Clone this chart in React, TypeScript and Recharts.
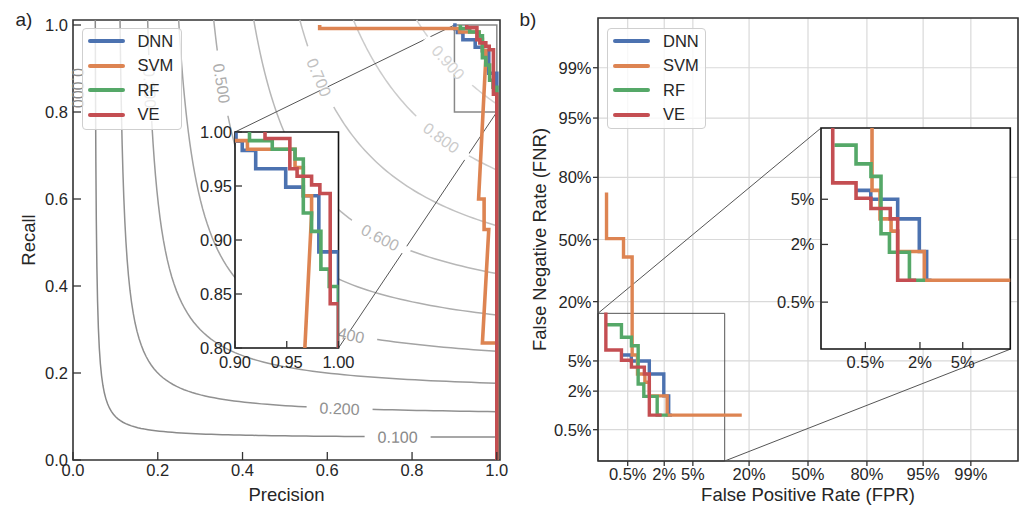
import {
  CartesianGrid,
  Legend,
  Line,
  LineChart,
  ReferenceArea,
  ReferenceDot,
  ReferenceLine,
  XAxis,
  YAxis,
} from "recharts";

const FONT = '"Liberation Sans", Arial, Helvetica, sans-serif';
const INK = "#262626";
const SPINE = "#333333";
const PAGE_W = 1021;
const PAGE_H = 506;

const MODEL_NAMES = ["DNN", "SVM", "RF", "VE"];
const MODEL_COLORS = ["#4C72B0", "#DD8452", "#55A868", "#C44E52"];

// a) precision-recall curves, [precision, recall]
const DNN_PR: [number, number][] = [
  [0.897, 1.0], [0.901, 1.0], [0.901, 0.9915], [0.907, 0.9915], [0.907, 0.983],
  [0.92, 0.983], [0.92, 0.966], [0.949, 0.966], [0.949, 0.949], [0.966, 0.949],
  [0.966, 0.941], [0.981, 0.941], [0.981, 0.889], [1.0, 0.889], [1.0, 0.0],
];
const SVM_PR: [number, number][] = [
  [0.582, 1.0], [0.582, 0.992], [0.912, 0.992], [0.912, 0.984], [0.958, 0.984],
  [0.958, 0.967], [0.966, 0.967], [0.966, 0.941], [0.974, 0.941], [0.974, 0.924],
  [0.957, 0.6], [0.97, 0.6], [0.97, 0.53], [0.981, 0.53], [0.966, 0.269],
  [1.0, 0.269], [1.0, 0.0],
];
const RF_PR: [number, number][] = [
  [0.914, 1.0], [0.914, 0.992], [0.936, 0.992], [0.936, 0.984], [0.958, 0.984],
  [0.958, 0.975], [0.966, 0.975], [0.966, 0.925], [0.974, 0.925], [0.974, 0.908],
  [0.983, 0.908], [0.983, 0.873], [0.991, 0.873], [0.991, 0.857], [1.0, 0.857],
  [1.0, 0.0],
];
const VE_PR: [number, number][] = [
  [0.929, 1.0], [0.929, 0.994], [0.953, 0.994], [0.953, 0.966], [0.96, 0.966],
  [0.96, 0.959], [0.974, 0.959], [0.974, 0.951], [0.982, 0.951], [0.982, 0.943],
  [0.992, 0.943], [0.992, 0.841], [1.0, 0.841], [1.0, 0.0],
];

// iso-F1 guide lines behind panel a
const F_LEVELS = [0.1, 0.2, 0.3, 0.4, 0.5, 0.6, 0.7, 0.8, 0.9];
const F_GREYS = ["#8a8a8a", "#919191", "#999999", "#a3a3a3", "#adadad", "#b7b7b7", "#c1c1c1", "#cbcbcb", "#d4d4d4"];
// inline label spots: precision for the flat stretches, recall for the steep ones
const F_LABEL_SPOTS: { level: number; p?: number; r?: number }[] = [
  { level: 0.1, p: 0.766 },
  { level: 0.2, p: 0.629 },
  { level: 0.3, r: 0.855 },
  { level: 0.4, p: 0.641 },
  { level: 0.5, r: 0.866 },
  { level: 0.6, p: 0.725 },
  { level: 0.7, r: 0.88 },
  { level: 0.8, p: 0.869 },
  { level: 0.9, p: 0.886 },
];
// the zero level runs along the left spine; only its label shows
const F_ZERO_LABEL = { text: "0.000", p: 0.012, r: 0.855, color: "#8a8a8a" };

// b) DET curves, [FPR %, FNR %]
const DNN_DET: [number, number][] = [
  [0.385, 5.88], [0.58, 5.88], [0.58, 5.0], [1.17, 5.0], [1.17, 3.42], [1.97, 3.42],
  [1.97, 1.71], [2.33, 1.71], [2.33, 0.87], [2.6, 0.87],
];
const SVM_DET: [number, number][] = [
  [0.2, 73.8], [0.2, 50.5], [0.42, 50.5], [0.42, 40.6], [0.6, 40.6], [0.6, 5.88],
  [0.743, 5.88], [0.743, 3.42], [0.99, 3.42], [0.99, 2.66], [1.17, 2.66], [1.17, 1.71],
  [2.21, 1.71], [2.21, 0.87], [17.2, 0.87],
];
const RF_DET: [number, number][] = [
  [0.204, 12.4], [0.385, 12.4], [0.385, 9.26], [0.583, 9.26], [0.583, 7.52], [0.763, 7.52],
  [0.763, 2.52], [0.95, 2.52], [0.95, 1.68], [1.56, 1.68], [1.56, 0.87], [2.25, 0.87],
];
const VE_DET: [number, number][] = [
  [0.194, 16.1], [0.194, 6.72], [0.385, 6.72], [0.385, 5.09], [0.583, 5.09], [0.583, 4.2],
  [0.97, 4.2], [0.97, 3.42], [1.17, 3.42], [1.17, 0.87], [1.83, 0.87],
];

const A_TICKS = [0, 0.2, 0.4, 0.6, 0.8, 1.0];
const A_INSET_X_TICKS = [0.9, 0.95, 1.0];
const A_INSET_Y_TICKS = [0.8, 0.85, 0.9, 0.95, 1.0];
const B_TICKS = [0.005, 0.02, 0.05, 0.2, 0.5, 0.8, 0.95, 0.99];
const B_INSET_TICKS = [0.005, 0.02, 0.05];

// ---- layout (page pixels) ----
const A_MAIN = { left: 0, width: 512, top: 20, right: 12, yAxisW: 73, xAxisH: 46 };
const A_X_DOMAIN: [number, number] = [0, 1.0075];
const A_Y_DOMAIN: [number, number] = [0, 1.0115];
const A_ZOOM = { x: [0.9, 1.0] as [number, number], y: [0.8, 1.0] as [number, number] };
const A_INSET = { x0: 235, y0: 132, x1: 338.5, y1: 348, yAxisW: 50, xAxisH: 34, pad: 14, padRight: 26 };

const B_MAIN = { left: 510, width: 511, top: 18, right: 3, yAxisW: 88, xAxisH: 45 };
const B_DOMAIN: [number, number] = [-3, 3];
const B_ZOOM = { x: [-3, -1.19] as [number, number], y: [-3, -1.0] as [number, number] };
const B_INSET = { x0: 820.7, y0: 128.3, x1: 1010, y1: 349.3, yAxisW: 50, xAxisH: 34, pad: 10, padRight: 10 };

type Rect = { x0: number; x1: number; y0: number; y1: number };
const mainRect = (m: typeof A_MAIN): Rect => ({
  x0: m.left + m.yAxisW,
  x1: m.left + m.width - m.right,
  y0: m.top,
  y1: PAGE_H - m.xAxisH,
});
// page pixel -> data coordinates of a plot
const toData = (r: Rect, xd: [number, number], yd: [number, number], px: number, py: number) => ({
  x: xd[0] + ((px - r.x0) / (r.x1 - r.x0)) * (xd[1] - xd[0]),
  y: yd[0] + ((r.y1 - py) / (r.y1 - r.y0)) * (yd[1] - yd[0]),
});

// inverse standard normal CDF (Acklam), for the DET axes
function probit(p: number): number {
  const a = [-39.69683028665376, 220.9460984245205, -275.9285104469687, 138.357751867269, -30.66479806614716, 2.506628277459239];
  const b = [-54.47609879822406, 161.5858368580409, -155.6989798598866, 66.80131188771972, -13.28068155288572];
  const c = [-0.007784894002430293, -0.3223964580411365, -2.400758277161838, -2.549732539343734, 4.374664141464968, 2.938163982698783];
  const d = [0.007784695709041462, 0.3224671290700398, 2.445134137142996, 3.754408661907416];
  const lo = 0.02425;
  if (p < lo) {
    const q = Math.sqrt(-2 * Math.log(p));
    return (((((c[0] * q + c[1]) * q + c[2]) * q + c[3]) * q + c[4]) * q + c[5]) / ((((d[0] * q + d[1]) * q + d[2]) * q + d[3]) * q + 1);
  }
  if (p <= 1 - lo) {
    const q = p - 0.5;
    const r = q * q;
    return ((((((a[0] * r + a[1]) * r + a[2]) * r + a[3]) * r + a[4]) * r + a[5]) * q) / (((((b[0] * r + b[1]) * r + b[2]) * r + b[3]) * r + b[4]) * r + 1);
  }
  const q = Math.sqrt(-2 * Math.log(1 - p));
  return -(((((c[0] * q + c[1]) * q + c[2]) * q + c[3]) * q + c[4]) * q + c[5]) / ((((d[0] * q + d[1]) * q + d[2]) * q + d[3]) * q + 1);
}

const pct = (r: number) => `${+(r * 100).toFixed(1)}%`;
const rateLabel = (z: number) => {
  const hit = B_TICKS.find((r) => Math.abs(probit(r) - z) < 1e-6);
  return hit === undefined ? "" : pct(hit);
};

const prSeries = [DNN_PR, SVM_PR, RF_PR, VE_PR].map((pts) => pts.map(([x, y]) => ({ x, y })));
const detSeries = [DNN_DET, SVM_DET, RF_DET, VE_DET].map((pts) =>
  pts.map(([fpr, fnr]) => ({ x: probit(fpr / 100), y: probit(fnr / 100) })),
);

// iso-F1 curve: recall = F·P / (2P − F)
const isoRecall = (f: number, p: number) => (f * p) / (2 * p - f);
const isoPrecision = (f: number, r: number) => (f * r) / (2 * r - f);
const isoCurve = (f: number) => {
  const p0 = isoPrecision(f, A_Y_DOMAIN[1]);
  return Array.from({ length: 81 }, (_, i) => {
    const t = i / 80;
    const p = p0 + (1 - p0) * t * t;
    return { x: p, y: Math.min(isoRecall(f, p), A_Y_DOMAIN[1]) };
  });
};

function TickX({ x, y, payload, format, len, gap }: any) {
  return (
    <g>
      <line x1={x} y1={y} x2={x} y2={y - len} stroke={SPINE} strokeWidth={1.3} />
      <text x={x} y={y + gap} textAnchor="middle" fontFamily={FONT} fontSize={16.5} fill={INK}>
        {format(payload.value)}
      </text>
    </g>
  );
}

function TickY({ x, y, payload, format, len, gap }: any) {
  return (
    <g>
      <line x1={x} y1={y} x2={x + len} y2={y} stroke={SPINE} strokeWidth={1.3} />
      <text x={x - gap} y={y + 6} textAnchor="end" fontFamily={FONT} fontSize={16.5} fill={INK}>
        {format(payload.value)}
      </text>
    </g>
  );
}

// axis title; `shift` is measured from the axis box's left (vertical) or top edge
function AxisTitle({ viewBox, text, shift, vertical }: any) {
  const { x, y, width, height } = viewBox;
  if (vertical) {
    const bx = x + shift;
    const cy = y + height / 2;
    return (
      <text x={bx} y={cy} transform={`rotate(-90, ${bx}, ${cy})`} textAnchor="middle" fontFamily={FONT} fontSize={18.5} fill={INK}>
        {text}
      </text>
    );
  }
  return (
    <text x={x + width / 2} y={y + shift} textAnchor="middle" fontFamily={FONT} fontSize={18.5} fill={INK}>
      {text}
    </text>
  );
}

function LegendBox({ payload }: any) {
  const items = (payload ?? [])
    .filter((item: any) => MODEL_NAMES.includes(item.value))
    .sort((p: any, q: any) => MODEL_NAMES.indexOf(p.value) - MODEL_NAMES.indexOf(q.value));
  return (
    <div
      style={{
        boxSizing: "border-box",
        width: "100%",
        height: "100%",
        border: "1px solid #cfcfcf",
        borderRadius: 4,
        background: "rgba(255,255,255,0.8)",
        paddingLeft: 5,
        fontFamily: FONT,
        fontSize: 16.5,
        color: INK,
      }}
    >
      {items.map((item: any) => (
        <div key={item.value} style={{ display: "flex", alignItems: "center", height: 24.4 }}>
          <svg width={37} height={6} style={{ marginRight: 12.7 }}>
            <line x1={2} y1={3} x2={35} y2={3} stroke={item.color} strokeWidth={4} strokeLinecap="round" />
          </svg>
          <span>{item.value}</span>
        </div>
      ))}
    </div>
  );
}

function ContourLabel({ cx, cy, text, color, angle }: any) {
  if (cx == null || cy == null) return null;
  return (
    <g transform={`translate(${cx}, ${cy}) rotate(${angle})`}>
      <rect x={-33} y={-4} width={66} height={8} fill="#ffffff" />
      <text x={0} y={6} textAnchor="middle" fontFamily={FONT} fontSize={16} fill={color}>
        {text}
      </text>
    </g>
  );
}

function PanelA() {
  const r = mainRect(A_MAIN);
  const pxPerX = (r.x1 - r.x0) / (A_X_DOMAIN[1] - A_X_DOMAIN[0]);
  const pxPerY = (r.y1 - r.y0) / (A_Y_DOMAIN[1] - A_Y_DOMAIN[0]);
  const insetTL = toData(r, A_X_DOMAIN, A_Y_DOMAIN, A_INSET.x0, A_INSET.y0);
  const insetBR = toData(r, A_X_DOMAIN, A_Y_DOMAIN, A_INSET.x1, A_INSET.y1);
  const labels = F_LABEL_SPOTS.map((s) => {
    const p = s.p ?? isoPrecision(s.level, s.r as number);
    const rec = s.r ?? isoRecall(s.level, p);
    const slope = (s.level * s.level) / ((2 * p - s.level) * (2 * p - s.level));
    const angle = (Math.atan((slope * pxPerY) / pxPerX) * 180) / Math.PI;
    return { text: s.level.toFixed(3), color: F_GREYS[F_LEVELS.indexOf(s.level)], p, rec, angle };
  });
  labels.push({ text: F_ZERO_LABEL.text, color: F_ZERO_LABEL.color, p: F_ZERO_LABEL.p, rec: F_ZERO_LABEL.r, angle: 90 });
  return (
    <div style={{ position: "absolute", left: A_MAIN.left, top: 0 }}>
      <LineChart
        width={A_MAIN.width}
        height={PAGE_H}
        margin={{ top: A_MAIN.top, right: A_MAIN.right, bottom: 0, left: 0 }}
      >
        <XAxis
          type="number"
          dataKey="x"
          domain={A_X_DOMAIN}
          ticks={A_TICKS}
          interval={0}
          height={A_MAIN.xAxisH}
          axisLine={false}
          tickLine={false}
          tickSize={0}
          tickMargin={0}
          tick={<TickX format={(v: number) => v.toFixed(1)} len={8} gap={15.5} />}
          label={<AxisTitle text="Precision" shift={40.7} />}
        />
        <YAxis
          type="number"
          dataKey="y"
          domain={A_Y_DOMAIN}
          ticks={A_TICKS}
          interval={0}
          width={A_MAIN.yAxisW}
          axisLine={false}
          tickLine={false}
          tickSize={0}
          tickMargin={0}
          tick={<TickY format={(v: number) => v.toFixed(1)} len={8} gap={5} />}
          label={<AxisTitle text="Recall" shift={35} vertical />}
        />
        {F_LEVELS.map((f, i) => (
          <Line
            key={`iso-${f}`}
            data={isoCurve(f)}
            dataKey="y"
            name={`F=${f}`}
            legendType="none"
            stroke={F_GREYS[i]}
            strokeWidth={1.5}
            dot={false}
            activeDot={false}
            isAnimationActive={false}
          />
        ))}
        {labels.map((l) => (
          <ReferenceDot
            key={`lab-${l.text}`}
            x={l.p}
            y={l.rec}
            r={0}
            shape={(props: any) => (
              <ContourLabel cx={props.cx} cy={props.cy} text={l.text} color={l.color} angle={l.angle} />
            )}
          />
        ))}
        <ReferenceArea
          x1={A_ZOOM.x[0]}
          x2={A_ZOOM.x[1]}
          y1={A_ZOOM.y[0]}
          y2={A_ZOOM.y[1]}
          fill="none"
          stroke="#888888"
          strokeWidth={1.5}
        />
        <ReferenceLine
          segment={[{ x: A_ZOOM.x[0], y: A_ZOOM.y[1] }, insetTL]}
          stroke="#555555"
          strokeWidth={1}
        />
        <ReferenceLine
          segment={[{ x: A_ZOOM.x[1], y: A_ZOOM.y[0] }, insetBR]}
          stroke="#555555"
          strokeWidth={1}
        />
        {prSeries.map((data, i) => (
          <Line
            key={MODEL_NAMES[i]}
            data={data}
            dataKey="y"
            name={MODEL_NAMES[i]}
            stroke={MODEL_COLORS[i]}
            strokeWidth={3.6}
            dot={false}
            activeDot={false}
            isAnimationActive={false}
          />
        ))}
        <ReferenceArea
          x1={A_X_DOMAIN[0]}
          x2={A_X_DOMAIN[1]}
          y1={A_Y_DOMAIN[0]}
          y2={A_Y_DOMAIN[1]}
          fill="none"
          stroke={SPINE}
          strokeWidth={1.6}
        />
        <Legend
          layout="vertical"
          align="center"
          verticalAlign="middle"
          content={<LegendBox />}
          wrapperStyle={{ left: 81.7 - A_MAIN.left, top: 28.3, width: 100, height: 101.7 }}
        />
      </LineChart>
    </div>
  );
}

function InsetA() {
  const i = A_INSET;
  const w = i.yAxisW + (i.x1 - i.x0) + i.padRight;
  const h = i.pad + (i.y1 - i.y0) + i.xAxisH;
  return (
    <div style={{ position: "absolute", left: i.x0 - i.yAxisW, top: i.y0 - i.pad }}>
      <LineChart width={w} height={h} margin={{ top: i.pad, right: i.padRight, bottom: 0, left: 0 }}>
        <CartesianGrid fill="#ffffff" fillOpacity={1} stroke="none" />
        <XAxis
          type="number"
          dataKey="x"
          domain={A_ZOOM.x}
          allowDataOverflow
          ticks={A_INSET_X_TICKS}
          interval={0}
          height={i.xAxisH}
          axisLine={false}
          tickLine={false}
          tickSize={0}
          tickMargin={0}
          tick={<TickX format={(v: number) => v.toFixed(2)} len={7} gap={19.5} />}
        />
        <YAxis
          type="number"
          dataKey="y"
          domain={A_ZOOM.y}
          allowDataOverflow
          ticks={A_INSET_Y_TICKS}
          interval={0}
          width={i.yAxisW}
          axisLine={false}
          tickLine={false}
          tickSize={0}
          tickMargin={0}
          tick={<TickY format={(v: number) => v.toFixed(2)} len={7} gap={3} />}
        />
        {prSeries.map((data, k) => (
          <Line
            key={MODEL_NAMES[k]}
            data={data}
            dataKey="y"
            name={MODEL_NAMES[k]}
            stroke={MODEL_COLORS[k]}
            strokeWidth={3.6}
            dot={false}
            activeDot={false}
            isAnimationActive={false}
          />
        ))}
        <ReferenceArea
          x1={A_ZOOM.x[0]}
          x2={A_ZOOM.x[1]}
          y1={A_ZOOM.y[0]}
          y2={A_ZOOM.y[1]}
          fill="none"
          stroke="#111111"
          strokeWidth={1.6}
        />
      </LineChart>
    </div>
  );
}

function PanelB() {
  const r = mainRect(B_MAIN);
  const insetTL = toData(r, B_DOMAIN, B_DOMAIN, B_INSET.x0, B_INSET.y0);
  const insetBR = toData(r, B_DOMAIN, B_DOMAIN, B_INSET.x1, B_INSET.y1);
  const ticks = B_TICKS.map(probit);
  return (
    <div style={{ position: "absolute", left: B_MAIN.left, top: 0 }}>
      <LineChart
        width={B_MAIN.width}
        height={PAGE_H}
        margin={{ top: B_MAIN.top, right: B_MAIN.right, bottom: 0, left: 0 }}
      >
        <CartesianGrid stroke="#d9d9d9" strokeWidth={1.2} />
        <XAxis
          type="number"
          dataKey="x"
          domain={B_DOMAIN}
          ticks={ticks}
          interval={0}
          height={B_MAIN.xAxisH}
          axisLine={false}
          tickLine={false}
          tickSize={0}
          tickMargin={0}
          tick={<TickX format={rateLabel} len={-5} gap={19} />}
          label={<AxisTitle text="False Positive Rate (FPR)" shift={39.7} />}
        />
        <YAxis
          type="number"
          dataKey="y"
          domain={B_DOMAIN}
          ticks={ticks}
          interval={0}
          width={B_MAIN.yAxisW}
          axisLine={false}
          tickLine={false}
          tickSize={0}
          tickMargin={0}
          tick={<TickY format={rateLabel} len={-5} gap={6.5} />}
          label={<AxisTitle text="False Negative Rate (FNR)" shift={35.5} vertical />}
        />
        <ReferenceArea
          x1={B_ZOOM.x[0]}
          x2={B_ZOOM.x[1]}
          y1={B_ZOOM.y[0]}
          y2={B_ZOOM.y[1]}
          fill="none"
          stroke="#555555"
          strokeWidth={1}
        />
        <ReferenceLine segment={[{ x: B_ZOOM.x[0], y: B_ZOOM.y[1] }, insetTL]} stroke="#555555" strokeWidth={1} />
        <ReferenceLine segment={[{ x: B_ZOOM.x[1], y: B_ZOOM.y[0] }, insetBR]} stroke="#555555" strokeWidth={1} />
        {detSeries.map((data, i) => (
          <Line
            key={MODEL_NAMES[i]}
            data={data}
            dataKey="y"
            name={MODEL_NAMES[i]}
            stroke={MODEL_COLORS[i]}
            strokeWidth={3.4}
            dot={false}
            activeDot={false}
            isAnimationActive={false}
          />
        ))}
        <ReferenceArea
          x1={B_DOMAIN[0]}
          x2={B_DOMAIN[1]}
          y1={B_DOMAIN[0]}
          y2={B_DOMAIN[1]}
          fill="none"
          stroke={SPINE}
          strokeWidth={1.6}
        />
        <Legend
          layout="vertical"
          align="center"
          verticalAlign="middle"
          content={<LegendBox />}
          wrapperStyle={{ left: 607.3 - B_MAIN.left, top: 28.3, width: 99, height: 101 }}
        />
      </LineChart>
    </div>
  );
}

function InsetB() {
  const i = B_INSET;
  const w = i.yAxisW + (i.x1 - i.x0) + i.padRight;
  const h = i.pad + (i.y1 - i.y0) + i.xAxisH;
  const ticks = B_INSET_TICKS.map(probit);
  return (
    <div style={{ position: "absolute", left: i.x0 - i.yAxisW, top: i.y0 - i.pad }}>
      <LineChart width={w} height={h} margin={{ top: i.pad, right: i.padRight, bottom: 0, left: 0 }}>
        <CartesianGrid fill="#ffffff" fillOpacity={1} stroke="none" />
        <XAxis
          type="number"
          dataKey="x"
          domain={B_ZOOM.x}
          allowDataOverflow
          ticks={ticks}
          interval={0}
          height={i.xAxisH}
          axisLine={false}
          tickLine={false}
          tickSize={0}
          tickMargin={0}
          tick={<TickX format={rateLabel} len={7} gap={19.5} />}
        />
        <YAxis
          type="number"
          dataKey="y"
          domain={B_ZOOM.y}
          allowDataOverflow
          ticks={ticks}
          interval={0}
          width={i.yAxisW}
          axisLine={false}
          tickLine={false}
          tickSize={0}
          tickMargin={0}
          tick={<TickY format={rateLabel} len={7} gap={6.5} />}
        />
        {detSeries.map((data, k) => (
          <Line
            key={MODEL_NAMES[k]}
            data={data}
            dataKey="y"
            name={MODEL_NAMES[k]}
            stroke={MODEL_COLORS[k]}
            strokeWidth={3.6}
            dot={false}
            activeDot={false}
            isAnimationActive={false}
          />
        ))}
        <ReferenceArea
          x1={B_ZOOM.x[0]}
          x2={B_ZOOM.x[1]}
          y1={B_ZOOM.y[0]}
          y2={B_ZOOM.y[1]}
          fill="none"
          stroke="#111111"
          strokeWidth={1.6}
        />
      </LineChart>
    </div>
  );
}

export default function App() {
  const panelTag = { position: "absolute" as const, fontFamily: FONT, fontSize: 19, lineHeight: "19px", color: INK };
  return (
    <div
      style={{
        position: "absolute",
        left: 0,
        top: 0,
        width: PAGE_W,
        height: PAGE_H,
        background: "#ffffff",
        overflow: "hidden",
        fontFamily: FONT,
      }}
    >
      <PanelA />
      <PanelB />
      <InsetA />
      <InsetB />
      <div style={{ ...panelTag, left: 15.5, top: 10 }}>a)</div>
      <div style={{ ...panelTag, left: 519.5, top: 10 }}>b)</div>
    </div>
  );
}
